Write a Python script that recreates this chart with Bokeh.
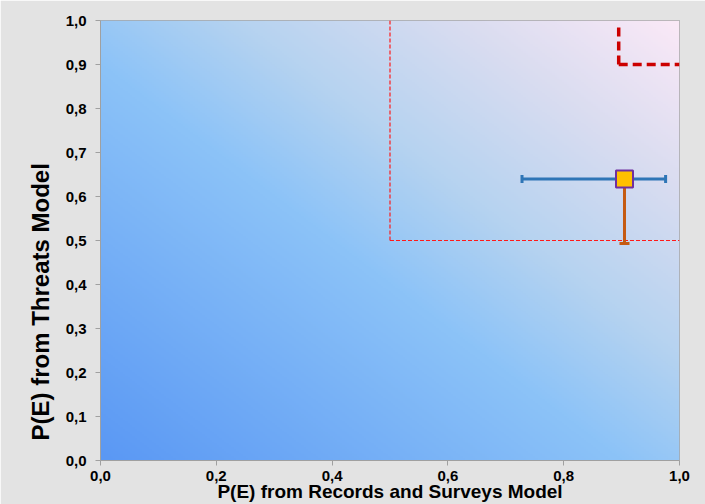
import numpy as np
from bokeh.plotting import figure
from bokeh.models import FixedTicker, Range1d, Title
from bokeh.embed import file_html
from bokeh.resources import INLINE

# ---- data ----
point_x = [0.905]
point_y = [0.64]
x_err_low = [0.728]
x_err_high = [0.976]
y_err_low = [0.493]
# thresholds (red dashed)
thr_inner = 0.5
thr_outer_x = 0.895
thr_outer_y = 0.90
thr_outer_top = 0.99
x_ticks = [0.0, 0.2, 0.4, 0.6, 0.8, 1.0]
y_ticks = [0.0, 0.1, 0.2, 0.3, 0.4, 0.5, 0.6, 0.7, 0.8, 0.9, 1.0]
x_title = "P(E) from Records and Surveys Model"
y_title = "P(E) from Threats Model"

FONT = "Liberation Sans"

p = figure(width=705, height=504, output_backend="svg", toolbar_location=None,
           x_range=Range1d(0, 1), y_range=Range1d(0, 1),
           min_border_left=100, min_border_right=26, min_border_top=20, min_border_bottom=44)
p.border_fill_color = "#e3e3e3"
p.background_fill_color = "#8fc2f7"
p.outline_line_color = "#a6a6a6"
p.grid.visible = False

# gradient background (style only)
n = 240
gx, gy = np.meshgrid(np.linspace(0, 1, n), np.linspace(0, 1, n))
t = (gx + gy) / 2.0
stops = [0.0, 0.45, 0.62, 0.8, 1.0]
cols = np.array([[0x5a, 0x98, 0xf4], [0x8c, 0xc3, 0xf8], [0xb6, 0xd3, 0xf0],
                 [0xd8, 0xdc, 0xf0], [0xfb, 0xe9, 0xf7]], dtype=float)
rgb = np.stack([np.interp(t, stops, cols[:, k]) for k in range(3)], axis=-1).astype(np.uint32)
img = (255 << 24) | (rgb[..., 2] << 16) | (rgb[..., 1] << 8) | rgb[..., 0]
p.image_rgba(image=[img.astype(np.uint32)], x=0, y=0, dw=1, dh=1, level="image")

# thin red dashed thresholds
p.segment(x0=[thr_inner, thr_inner], y0=[thr_inner, thr_inner], x1=[thr_inner, 1.0], y1=[1.0, thr_inner],
          line_color="#ff1a1a", line_width=1.2, line_dash="4 2")
# thick dark-red dashed thresholds
p.segment(x0=[thr_outer_x, thr_outer_x], y0=[thr_outer_y, thr_outer_y],
          x1=[thr_outer_x, 1.0], y1=[thr_outer_top, thr_outer_y],
          line_color="#cc0000", line_width=3.5, line_dash="9 5")

# x error bar
p.segment(x0=x_err_low, y0=point_y, x1=x_err_high, y1=point_y, line_color="#2e75b6", line_width=3)
p.scatter(x=x_err_low + x_err_high, y=point_y * 2, marker="dash", angle=np.pi / 2, size=8,
          line_color="#2e75b6", line_width=3)
# y error bar (down only)
p.segment(x0=point_x, y0=point_y, x1=point_x, y1=y_err_low, line_color="#c55a11", line_width=3)
p.scatter(x=point_x, y=y_err_low, marker="dash", size=10, line_color="#c55a11", line_width=3)

# marker
p.scatter(x=point_x, y=point_y, marker="square", size=17, fill_color="#ffc000",
          line_color="#7030a0", line_width=2)

# axes
for ax, ticks in ((p.xaxis, x_ticks), (p.yaxis, y_ticks)):
    ax.ticker = FixedTicker(ticks=ticks)
    ax.major_label_overrides = {v: f"{v:.1f}".replace(".", ",") for v in ticks}
    ax.major_label_text_font = FONT
    ax.major_label_text_font_style = "bold"
    ax.major_label_text_font_size = "15px"
    ax.major_label_text_color = "#000000"
    ax.axis_line_color = "#a0a0a0"
    ax.major_tick_line_color = "#a0a0a0"
    ax.major_tick_out = 5
    ax.major_tick_in = 0
    ax.minor_tick_line_color = None
p.yaxis.major_label_standoff = 9
p.xaxis.major_label_standoff = 5

p.xaxis.axis_label = x_title
p.xaxis.axis_label_text_font = FONT
p.xaxis.axis_label_text_font_style = "bold"
p.xaxis.axis_label_text_font_size = "19px"
p.xaxis.axis_label_text_color = "#000000"
p.xaxis.axis_label_standoff = -3

p.add_layout(Title(text=y_title, align="left", offset=20, text_font=FONT, text_font_style="bold",
                   text_font_size="24px", text_color="#000000", standoff=18), "left")

open("out.html", "w").write(file_html(p, INLINE))
